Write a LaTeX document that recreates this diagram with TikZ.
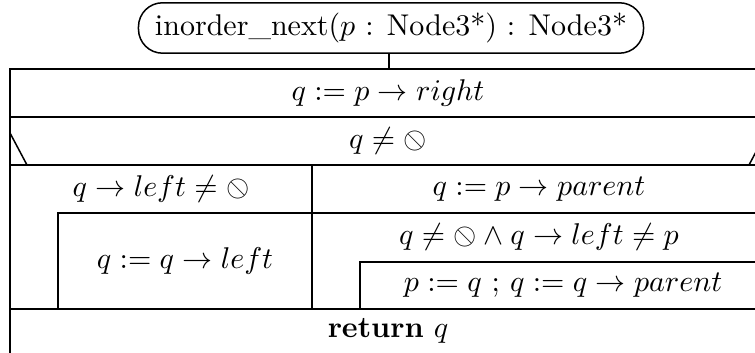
\documentclass[tikz,border=0pt]{standalone}
\usepackage{stmaryrd}
\usetikzlibrary{positioning}
\begin{document}
\begin{tikzpicture}[x=0.3333pt, y=-0.3333pt, line width=0.5pt,
    titolo/.style={draw, rounded corners=8pt, inner xsep=5.5pt, inner ysep=3.4pt, minimum height=16.7pt},
    testo/.style={inner sep=0pt}]
        \useasboundingbox (0,0) rectangle (755,353);
        \clip (0,0) rectangle (755,353);

        % Intestazione della funzione
        \node[titolo] (head) at (391,28) {inorder\_next($p$ : Node3*) : Node3*};
        \coordinate (top) at (389,69);
        \draw (head.south -| top) -- (top);

        % Cornice esterna e prima assegnazione
        \draw (10,365) -- (10,69) -- (766,69) -- (766,365);
        \node[testo] (assign) at (388,93) {$q := p \rightarrow right$};
        \draw (10,117) -- (766,117);

        % Condizione (if)
        \node[testo] (cond) at (388,141) {$q \neq \obslash$};
        \draw (10,165) -- (766,165);
        \draw (10,133) -- (27,165);
        \draw (766,133) -- (749,165);
        \draw (312,165) -- (312,309);

        % Ramo sinistro: ciclo sul figlio sinistro
        \node[testo] (lcond) at (161,189) {$q \rightarrow left \neq \obslash$};
        \draw (58,309) -- (58,213) -- (312,213);
        \node[testo] (lbody) at (185,261) {$q := q \rightarrow left$};

        % Ramo destro: risalita verso il padre
        \node[testo] (rassign) at (539,189) {$q := p \rightarrow parent$};
        \draw (312,213) -- (766,213);
        \node[testo] (loop) at (539,237) {$q \neq \obslash \land q \rightarrow left \neq p$};
        \draw (360,309) -- (360,262) -- (766,262);
        \node[testo] (loopbody) at (563,285) {$p := q$ ; $q := q \rightarrow parent$};

        % Ritorno
        \draw (10,309) -- (766,309);
        \node[testo] (ret) at (388,331) {$\mathbf{return}\ q$};
    \end{tikzpicture}
\end{document}
